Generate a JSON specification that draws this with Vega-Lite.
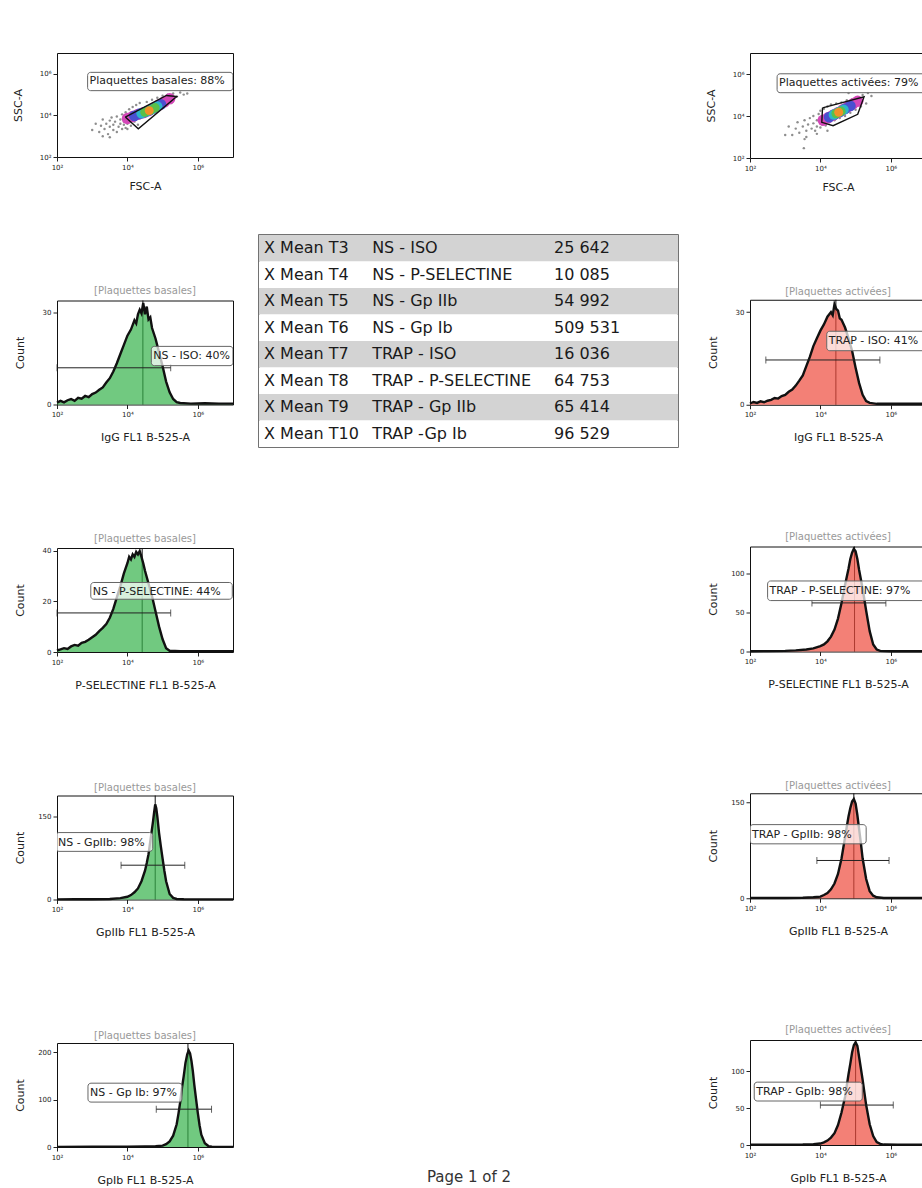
{
"$schema": "https://vega.github.io/schema/vega-lite/v6.json",
"padding": {"left": 11, "top": 52, "right": 0, "bottom": 0},
"spacing": 19,
"config": {
  "font": "DejaVu Sans",
  "view": {"stroke": "#111", "strokeWidth": 1},
  "axis": {"grid": false, "domain": false, "tickSize": 4, "tickColor": "#222", "labelFontSize": 7, "labelColor": "#222", "labelPadding": 2, "labelFlush": false, "titleFontSize": 11, "titleFontWeight": "normal", "titleColor": "#222"},
  "title": {"fontSize": 10, "fontWeight": "normal", "color": "#999", "offset": 2}
},
"datasets": {
  "ns_iso": [{"log_fl":2.0,"count":0.6},{"log_fl":2.1,"count":1.2},{"log_fl":2.2,"count":0.7},{"log_fl":2.3,"count":1.4},{"log_fl":2.4,"count":1.8},{"log_fl":2.5,"count":1.2},{"log_fl":2.6,"count":2.2},{"log_fl":2.7,"count":1.9},{"log_fl":2.8,"count":2.8},{"log_fl":2.9,"count":2.4},{"log_fl":3.0,"count":3.4},{"log_fl":3.1,"count":3.9},{"log_fl":3.2,"count":4.8},{"log_fl":3.3,"count":5.6},{"log_fl":3.4,"count":7.2},{"log_fl":3.5,"count":8.6},{"log_fl":3.6,"count":10.8},{"log_fl":3.7,"count":13.5},{"log_fl":3.8,"count":16.5},{"log_fl":3.9,"count":19.5},{"log_fl":4.0,"count":22.5},{"log_fl":4.1,"count":24.5},{"log_fl":4.2,"count":27.5},{"log_fl":4.25,"count":26.5},{"log_fl":4.3,"count":29.5},{"log_fl":4.35,"count":31},{"log_fl":4.4,"count":29.8},{"log_fl":4.45,"count":33.2},{"log_fl":4.5,"count":29.5},{"log_fl":4.55,"count":32},{"log_fl":4.6,"count":27.8},{"log_fl":4.65,"count":28.5},{"log_fl":4.7,"count":25},{"log_fl":4.8,"count":21.5},{"log_fl":4.9,"count":17},{"log_fl":5.0,"count":12.5},{"log_fl":5.1,"count":7.5},{"log_fl":5.2,"count":4},{"log_fl":5.3,"count":1.8},{"log_fl":5.4,"count":0.8},{"log_fl":5.5,"count":0.5},{"log_fl":5.8,"count":0.3},{"log_fl":6.2,"count":0.4},{"log_fl":6.6,"count":0.3},{"log_fl":7.0,"count":0.3}],
  "trap_iso": [{"log_fl":2.0,"count":0.4},{"log_fl":2.1,"count":0.9},{"log_fl":2.2,"count":0.6},{"log_fl":2.3,"count":1.1},{"log_fl":2.4,"count":0.8},{"log_fl":2.5,"count":1.3},{"log_fl":2.6,"count":1.6},{"log_fl":2.7,"count":2.2},{"log_fl":2.8,"count":2.0},{"log_fl":2.9,"count":2.8},{"log_fl":3.0,"count":3.2},{"log_fl":3.1,"count":4.2},{"log_fl":3.2,"count":4.9},{"log_fl":3.3,"count":6.2},{"log_fl":3.4,"count":7.8},{"log_fl":3.5,"count":9.5},{"log_fl":3.6,"count":12.5},{"log_fl":3.7,"count":15.5},{"log_fl":3.8,"count":19},{"log_fl":3.9,"count":21.5},{"log_fl":4.0,"count":24},{"log_fl":4.1,"count":26},{"log_fl":4.2,"count":28.5},{"log_fl":4.3,"count":30},{"log_fl":4.35,"count":29},{"log_fl":4.4,"count":32.5},{"log_fl":4.45,"count":31},{"log_fl":4.5,"count":30.5},{"log_fl":4.55,"count":28},{"log_fl":4.6,"count":27.5},{"log_fl":4.7,"count":25},{"log_fl":4.8,"count":21.5},{"log_fl":4.9,"count":17.5},{"log_fl":5.0,"count":12},{"log_fl":5.1,"count":7},{"log_fl":5.2,"count":3.2},{"log_fl":5.3,"count":1.2},{"log_fl":5.4,"count":0.6},{"log_fl":5.6,"count":0.3},{"log_fl":6.0,"count":0.3},{"log_fl":6.5,"count":0.3},{"log_fl":7.0,"count":0.3}],
  "ns_psel": [{"log_fl":2.0,"count":0.6},{"log_fl":2.1,"count":1.0},{"log_fl":2.2,"count":1.5},{"log_fl":2.3,"count":1.2},{"log_fl":2.4,"count":2.2},{"log_fl":2.5,"count":2.8},{"log_fl":2.6,"count":2.5},{"log_fl":2.7,"count":3.6},{"log_fl":2.8,"count":4.0},{"log_fl":2.9,"count":4.8},{"log_fl":3.0,"count":5.8},{"log_fl":3.1,"count":6.8},{"log_fl":3.2,"count":8.2},{"log_fl":3.3,"count":9.5},{"log_fl":3.4,"count":11},{"log_fl":3.5,"count":13.5},{"log_fl":3.6,"count":17},{"log_fl":3.7,"count":21.5},{"log_fl":3.8,"count":26},{"log_fl":3.9,"count":31},{"log_fl":4.0,"count":35},{"log_fl":4.05,"count":37.5},{"log_fl":4.1,"count":36.5},{"log_fl":4.15,"count":38.5},{"log_fl":4.2,"count":37.5},{"log_fl":4.25,"count":39.5},{"log_fl":4.3,"count":38.5},{"log_fl":4.35,"count":39.8},{"log_fl":4.4,"count":37.5},{"log_fl":4.45,"count":35},{"log_fl":4.5,"count":32},{"log_fl":4.6,"count":27},{"log_fl":4.7,"count":22},{"log_fl":4.8,"count":16},{"log_fl":4.9,"count":10},{"log_fl":5.0,"count":5},{"log_fl":5.1,"count":1.5},{"log_fl":5.2,"count":0.5},{"log_fl":5.5,"count":0.3},{"log_fl":6.0,"count":0.3},{"log_fl":6.5,"count":0.3},{"log_fl":7.0,"count":0.3}],
  "trap_psel": [{"log_fl":2.0,"count":0.3},{"log_fl":2.5,"count":0.5},{"log_fl":3.0,"count":0.8},{"log_fl":3.3,"count":1.5},{"log_fl":3.6,"count":2.5},{"log_fl":3.8,"count":4},{"log_fl":4.0,"count":7},{"log_fl":4.1,"count":9},{"log_fl":4.2,"count":13},{"log_fl":4.3,"count":19},{"log_fl":4.4,"count":28},{"log_fl":4.5,"count":42},{"log_fl":4.6,"count":62},{"log_fl":4.7,"count":85},{"log_fl":4.8,"count":106},{"log_fl":4.85,"count":118},{"log_fl":4.9,"count":126},{"log_fl":4.95,"count":131},{"log_fl":5.0,"count":128},{"log_fl":5.05,"count":118},{"log_fl":5.1,"count":104},{"log_fl":5.2,"count":80},{"log_fl":5.3,"count":52},{"log_fl":5.4,"count":26},{"log_fl":5.5,"count":9},{"log_fl":5.6,"count":2.5},{"log_fl":5.7,"count":0.8},{"log_fl":6.0,"count":0.4},{"log_fl":6.5,"count":0.3},{"log_fl":7.0,"count":0.3}],
  "ns_gpiib": [{"log_fl":2.0,"count":0.3},{"log_fl":2.5,"count":0.4},{"log_fl":3.0,"count":0.5},{"log_fl":3.5,"count":1},{"log_fl":3.8,"count":2.5},{"log_fl":4.0,"count":5},{"log_fl":4.1,"count":8},{"log_fl":4.2,"count":13},{"log_fl":4.3,"count":20},{"log_fl":4.4,"count":33},{"log_fl":4.5,"count":52},{"log_fl":4.55,"count":66},{"log_fl":4.6,"count":82},{"log_fl":4.65,"count":105},{"log_fl":4.7,"count":128},{"log_fl":4.73,"count":142},{"log_fl":4.76,"count":158},{"log_fl":4.79,"count":172},{"log_fl":4.82,"count":165},{"log_fl":4.85,"count":150},{"log_fl":4.9,"count":120},{"log_fl":4.95,"count":96},{"log_fl":5.0,"count":74},{"log_fl":5.05,"count":52},{"log_fl":5.1,"count":33},{"log_fl":5.2,"count":10},{"log_fl":5.3,"count":3},{"log_fl":5.4,"count":1},{"log_fl":5.6,"count":0.4},{"log_fl":6.0,"count":0.3},{"log_fl":6.5,"count":0.3},{"log_fl":7.0,"count":0.3}],
  "trap_gpiib": [{"log_fl":2.0,"count":0.3},{"log_fl":2.5,"count":0.4},{"log_fl":3.0,"count":0.5},{"log_fl":3.5,"count":0.8},{"log_fl":3.8,"count":1.5},{"log_fl":4.0,"count":2.5},{"log_fl":4.1,"count":5},{"log_fl":4.2,"count":8},{"log_fl":4.3,"count":14},{"log_fl":4.4,"count":23},{"log_fl":4.5,"count":38},{"log_fl":4.6,"count":62},{"log_fl":4.7,"count":95},{"log_fl":4.75,"count":112},{"log_fl":4.8,"count":128},{"log_fl":4.85,"count":141},{"log_fl":4.9,"count":151},{"log_fl":4.95,"count":155},{"log_fl":5.0,"count":148},{"log_fl":5.05,"count":130},{"log_fl":5.1,"count":108},{"log_fl":5.15,"count":86},{"log_fl":5.2,"count":62},{"log_fl":5.3,"count":30},{"log_fl":5.4,"count":11},{"log_fl":5.5,"count":4},{"log_fl":5.6,"count":1.5},{"log_fl":5.8,"count":0.5},{"log_fl":6.2,"count":0.3},{"log_fl":7.0,"count":0.3}],
  "ns_gpib": [{"log_fl":2.0,"count":0.3},{"log_fl":3.0,"count":0.4},{"log_fl":4.0,"count":0.6},{"log_fl":4.5,"count":1},{"log_fl":4.8,"count":1.5},{"log_fl":5.0,"count":3},{"log_fl":5.1,"count":6},{"log_fl":5.2,"count":12},{"log_fl":5.3,"count":24},{"log_fl":5.4,"count":48},{"log_fl":5.45,"count":70},{"log_fl":5.5,"count":95},{"log_fl":5.55,"count":125},{"log_fl":5.6,"count":150},{"log_fl":5.65,"count":178},{"log_fl":5.7,"count":196},{"log_fl":5.74,"count":204},{"log_fl":5.78,"count":198},{"log_fl":5.82,"count":182},{"log_fl":5.86,"count":160},{"log_fl":5.9,"count":132},{"log_fl":5.95,"count":102},{"log_fl":6.0,"count":72},{"log_fl":6.05,"count":46},{"log_fl":6.1,"count":26},{"log_fl":6.2,"count":8},{"log_fl":6.3,"count":2},{"log_fl":6.4,"count":0.6},{"log_fl":6.7,"count":0.3},{"log_fl":7.0,"count":0.3}],
  "trap_gpib": [{"log_fl":2.0,"count":0.3},{"log_fl":3.0,"count":0.4},{"log_fl":3.5,"count":0.6},{"log_fl":3.8,"count":1.2},{"log_fl":4.0,"count":2},{"log_fl":4.1,"count":3.5},{"log_fl":4.2,"count":6},{"log_fl":4.3,"count":10},{"log_fl":4.4,"count":16},{"log_fl":4.5,"count":27},{"log_fl":4.6,"count":44},{"log_fl":4.7,"count":65},{"log_fl":4.8,"count":96},{"log_fl":4.85,"count":110},{"log_fl":4.9,"count":125},{"log_fl":4.95,"count":135},{"log_fl":5.0,"count":139},{"log_fl":5.05,"count":134},{"log_fl":5.1,"count":119},{"log_fl":5.2,"count":88},{"log_fl":5.3,"count":54},{"log_fl":5.4,"count":28},{"log_fl":5.5,"count":12},{"log_fl":5.6,"count":4},{"log_fl":5.7,"count":1.5},{"log_fl":5.8,"count":0.6},{"log_fl":6.2,"count":0.3},{"log_fl":7.0,"count":0.3}],
  "annot": [
    {"panel":"NS-ISO","label":"NS - ISO: 40%","peak":4.44,"gate_lo":2.0,"gate_hi":5.23,"gate_y":12,"box_x1":4.68,"box_x2":7.0,"box_top":19.0,"box_bottom":12.7},
    {"panel":"TRAP-ISO","label":"TRAP - ISO: 41%","peak":4.44,"gate_lo":2.45,"gate_hi":5.69,"gate_y":14.5,"box_x1":4.18,"box_x2":7.3,"box_top":23.8,"box_bottom":17.5},
    {"panel":"NS-PSEL","label":"NS - P-SELECTINE: 44%","peak":4.42,"gate_lo":2.0,"gate_hi":5.23,"gate_y":15.4,"box_x1":2.96,"box_x2":6.98,"box_top":27.4,"box_bottom":20.8},
    {"panel":"TRAP-PSEL","label":"TRAP - P-SELECTINE: 97%","peak":4.97,"gate_lo":3.76,"gate_hi":5.86,"gate_y":62,"box_x1":2.5,"box_x2":7.3,"box_top":90,"box_bottom":65},
    {"panel":"NS-GPIIB","label":"NS - GpIIb: 98%","peak":4.79,"gate_lo":3.82,"gate_hi":5.63,"gate_y":62,"box_x1":1.97,"box_x2":4.72,"box_top":121,"box_bottom":87},
    {"panel":"TRAP-GPIIB","label":"TRAP - GpIIb: 98%","peak":4.95,"gate_lo":3.9,"gate_hi":5.95,"gate_y":59,"box_x1":2.0,"box_x2":5.3,"box_top":115,"box_bottom":85},
    {"panel":"NS-GPIB","label":"NS - Gp Ib: 97%","peak":5.72,"gate_lo":4.82,"gate_hi":6.39,"gate_y":80,"box_x1":2.88,"box_x2":5.55,"box_top":135,"box_bottom":95},
    {"panel":"TRAP-GPIB","label":"TRAP - GpIb: 98%","peak":5.0,"gate_lo":4.0,"gate_hi":6.07,"gate_y":54,"box_x1":2.12,"box_x2":5.19,"box_top":85,"box_bottom":59.5}
  ],
  "scatter_annot": [
    {"panel":"basales","label":"Plaquettes basales: 88%","box_x1":2.87,"box_x2":7.0,"box_top":6.07,"box_bottom":5.19},
    {"panel":"activees","label":"Plaquettes activées: 79%","box_x1":2.77,"box_x2":7.4,"box_top":6.01,"box_bottom":5.11}
  ],
  "gates": [
    {"panel":"basales","v":0,"fsc":3.94,"ssc":3.92},{"panel":"basales","v":1,"fsc":4.31,"ssc":3.36},{"panel":"basales","v":2,"fsc":5.40,"ssc":4.91},{"panel":"basales","v":3,"fsc":5.11,"ssc":4.96},{"panel":"basales","v":4,"fsc":3.94,"ssc":3.92},
    {"panel":"activees","v":0,"fsc":4.06,"ssc":4.39},{"panel":"activees","v":1,"fsc":5.24,"ssc":4.91},{"panel":"activees","v":2,"fsc":5.06,"ssc":4.08},{"panel":"activees","v":3,"fsc":4.36,"ssc":3.54},{"panel":"activees","v":4,"fsc":4.04,"ssc":3.70},{"panel":"activees","v":5,"fsc":4.06,"ssc":4.39}
  ],
  "cells": [
    {"panel":"basales","level":0,"fsc":3.0,"ssc":3.3},{"panel":"basales","level":0,"fsc":3.1,"ssc":3.6},{"panel":"basales","level":0,"fsc":3.2,"ssc":3.2},{"panel":"basales","level":0,"fsc":3.25,"ssc":3.5},{"panel":"basales","level":0,"fsc":3.3,"ssc":3.8},{"panel":"basales","level":0,"fsc":3.35,"ssc":3.35},{"panel":"basales","level":0,"fsc":3.4,"ssc":3.6},{"panel":"basales","level":0,"fsc":3.45,"ssc":3.1},{"panel":"basales","level":0,"fsc":3.5,"ssc":3.45},{"panel":"basales","level":0,"fsc":3.5,"ssc":3.75},{"panel":"basales","level":0,"fsc":3.55,"ssc":3.9},{"panel":"basales","level":0,"fsc":3.6,"ssc":3.3},{"panel":"basales","level":0,"fsc":3.6,"ssc":3.55},{"panel":"basales","level":0,"fsc":3.65,"ssc":3.7},{"panel":"basales","level":0,"fsc":3.7,"ssc":3.2},{"panel":"basales","level":0,"fsc":3.7,"ssc":3.95},{"panel":"basales","level":0,"fsc":3.75,"ssc":3.45},{"panel":"basales","level":0,"fsc":3.8,"ssc":3.6},{"panel":"basales","level":0,"fsc":3.8,"ssc":3.8},{"panel":"basales","level":0,"fsc":3.85,"ssc":3.35},{"panel":"basales","level":0,"fsc":3.85,"ssc":4.05},{"panel":"basales","level":0,"fsc":3.9,"ssc":3.55},{"panel":"basales","level":0,"fsc":3.9,"ssc":3.7},{"panel":"basales","level":0,"fsc":3.95,"ssc":3.4},{"panel":"basales","level":0,"fsc":3.95,"ssc":4.15},{"panel":"basales","level":0,"fsc":4.0,"ssc":3.6},{"panel":"basales","level":0,"fsc":4.05,"ssc":3.75},{"panel":"basales","level":0,"fsc":4.05,"ssc":4.3},{"panel":"basales","level":0,"fsc":4.1,"ssc":3.5},{"panel":"basales","level":0,"fsc":4.15,"ssc":4.4},{"panel":"basales","level":0,"fsc":4.2,"ssc":3.7},{"panel":"basales","level":0,"fsc":4.25,"ssc":4.5},{"panel":"basales","level":0,"fsc":4.3,"ssc":3.85},{"panel":"basales","level":0,"fsc":4.35,"ssc":4.6},{"panel":"basales","level":0,"fsc":4.4,"ssc":3.9},{"panel":"basales","level":0,"fsc":4.5,"ssc":4.0},{"panel":"basales","level":0,"fsc":4.55,"ssc":4.65},{"panel":"basales","level":0,"fsc":4.6,"ssc":4.1},{"panel":"basales","level":0,"fsc":4.7,"ssc":4.75},{"panel":"basales","level":0,"fsc":4.75,"ssc":4.2},{"panel":"basales","level":0,"fsc":4.85,"ssc":4.85},{"panel":"basales","level":0,"fsc":4.9,"ssc":4.35},{"panel":"basales","level":0,"fsc":5.0,"ssc":4.95},{"panel":"basales","level":0,"fsc":5.05,"ssc":4.45},{"panel":"basales","level":0,"fsc":5.15,"ssc":5.0},{"panel":"basales","level":0,"fsc":5.25,"ssc":4.6},{"panel":"basales","level":0,"fsc":5.3,"ssc":5.05},{"panel":"basales","level":0,"fsc":5.4,"ssc":4.9},{"panel":"basales","level":0,"fsc":5.5,"ssc":5.1},{"panel":"basales","level":0,"fsc":5.6,"ssc":5.0},{"panel":"basales","level":0,"fsc":5.7,"ssc":5.05},{"panel":"basales","level":0,"fsc":3.3,"ssc":3.0},{"panel":"basales","level":0,"fsc":3.5,"ssc":2.95},{"panel":"basales","level":0,"fsc":4.0,"ssc":3.35},{"panel":"basales","level":0,"fsc":4.3,"ssc":3.55},
    {"panel":"basales","level":1,"fsc":4.0,"ssc":3.85},{"panel":"basales","level":1,"fsc":4.15,"ssc":3.95},{"panel":"basales","level":1,"fsc":4.3,"ssc":4.05},{"panel":"basales","level":1,"fsc":4.45,"ssc":4.13},{"panel":"basales","level":1,"fsc":4.6,"ssc":4.22},{"panel":"basales","level":1,"fsc":4.75,"ssc":4.35},{"panel":"basales","level":1,"fsc":4.9,"ssc":4.5},{"panel":"basales","level":1,"fsc":5.05,"ssc":4.65},{"panel":"basales","level":1,"fsc":5.2,"ssc":4.8},
    {"panel":"basales","level":2,"fsc":4.2,"ssc":3.98},{"panel":"basales","level":2,"fsc":4.35,"ssc":4.08},{"panel":"basales","level":2,"fsc":4.5,"ssc":4.16},{"panel":"basales","level":2,"fsc":4.65,"ssc":4.26},{"panel":"basales","level":2,"fsc":4.8,"ssc":4.4},{"panel":"basales","level":2,"fsc":4.95,"ssc":4.53},
    {"panel":"basales","level":3,"fsc":4.4,"ssc":4.1},{"panel":"basales","level":3,"fsc":4.55,"ssc":4.19},{"panel":"basales","level":3,"fsc":4.7,"ssc":4.3},{"panel":"basales","level":3,"fsc":4.85,"ssc":4.44},
    {"panel":"basales","level":4,"fsc":4.5,"ssc":4.16},{"panel":"basales","level":4,"fsc":4.65,"ssc":4.25},{"panel":"basales","level":4,"fsc":4.78,"ssc":4.36},
    {"panel":"basales","level":5,"fsc":4.62,"ssc":4.23},
    {"panel":"activees","level":0,"fsc":3.1,"ssc":3.5},{"panel":"activees","level":0,"fsc":3.2,"ssc":3.1},{"panel":"activees","level":0,"fsc":3.3,"ssc":3.4},{"panel":"activees","level":0,"fsc":3.35,"ssc":3.7},{"panel":"activees","level":0,"fsc":3.4,"ssc":3.2},{"panel":"activees","level":0,"fsc":3.5,"ssc":3.5},{"panel":"activees","level":0,"fsc":3.55,"ssc":3.8},{"panel":"activees","level":0,"fsc":3.6,"ssc":3.3},{"panel":"activees","level":0,"fsc":3.65,"ssc":3.6},{"panel":"activees","level":0,"fsc":3.7,"ssc":3.9},{"panel":"activees","level":0,"fsc":3.75,"ssc":3.4},{"panel":"activees","level":0,"fsc":3.8,"ssc":3.65},{"panel":"activees","level":0,"fsc":3.8,"ssc":4.0},{"panel":"activees","level":0,"fsc":3.85,"ssc":3.3},{"panel":"activees","level":0,"fsc":3.9,"ssc":3.5},{"panel":"activees","level":0,"fsc":3.9,"ssc":3.8},{"panel":"activees","level":0,"fsc":3.95,"ssc":4.1},{"panel":"activees","level":0,"fsc":4.0,"ssc":3.45},{"panel":"activees","level":0,"fsc":4.0,"ssc":4.25},{"panel":"activees","level":0,"fsc":4.05,"ssc":3.6},{"panel":"activees","level":0,"fsc":4.1,"ssc":4.35},{"panel":"activees","level":0,"fsc":4.15,"ssc":3.55},{"panel":"activees","level":0,"fsc":4.2,"ssc":4.45},{"panel":"activees","level":0,"fsc":4.25,"ssc":3.7},{"panel":"activees","level":0,"fsc":4.3,"ssc":4.55},{"panel":"activees","level":0,"fsc":4.4,"ssc":3.8},{"panel":"activees","level":0,"fsc":4.45,"ssc":4.6},{"panel":"activees","level":0,"fsc":4.55,"ssc":3.9},{"panel":"activees","level":0,"fsc":4.6,"ssc":4.65},{"panel":"activees","level":0,"fsc":4.7,"ssc":4.0},{"panel":"activees","level":0,"fsc":4.75,"ssc":4.75},{"panel":"activees","level":0,"fsc":4.85,"ssc":4.15},{"panel":"activees","level":0,"fsc":4.9,"ssc":4.8},{"panel":"activees","level":0,"fsc":5.0,"ssc":4.3},{"panel":"activees","level":0,"fsc":5.05,"ssc":4.9},{"panel":"activees","level":0,"fsc":5.15,"ssc":4.45},{"panel":"activees","level":0,"fsc":5.2,"ssc":5.0},{"panel":"activees","level":0,"fsc":5.3,"ssc":4.6},{"panel":"activees","level":0,"fsc":5.35,"ssc":5.1},{"panel":"activees","level":0,"fsc":5.45,"ssc":4.95},{"panel":"activees","level":0,"fsc":3.55,"ssc":2.9},{"panel":"activees","level":0,"fsc":3.9,"ssc":3.15},{"panel":"activees","level":0,"fsc":4.2,"ssc":3.3},{"panel":"activees","level":0,"fsc":3.0,"ssc":3.1},{"panel":"activees","level":0,"fsc":4.8,"ssc":5.1},{"panel":"activees","level":0,"fsc":3.6,"ssc":3.0},{"panel":"activees","level":0,"fsc":4.1,"ssc":3.9},{"panel":"activees","level":0,"fsc":3.53,"ssc":2.47},
    {"panel":"activees","level":1,"fsc":4.08,"ssc":3.8},{"panel":"activees","level":1,"fsc":4.22,"ssc":3.92},{"panel":"activees","level":1,"fsc":4.36,"ssc":4.04},{"panel":"activees","level":1,"fsc":4.5,"ssc":4.16},{"panel":"activees","level":1,"fsc":4.64,"ssc":4.3},{"panel":"activees","level":1,"fsc":4.78,"ssc":4.44},{"panel":"activees","level":1,"fsc":4.92,"ssc":4.57},{"panel":"activees","level":1,"fsc":5.06,"ssc":4.7},
    {"panel":"activees","level":2,"fsc":4.25,"ssc":3.95},{"panel":"activees","level":2,"fsc":4.4,"ssc":4.08},{"panel":"activees","level":2,"fsc":4.55,"ssc":4.2},{"panel":"activees","level":2,"fsc":4.7,"ssc":4.34},{"panel":"activees","level":2,"fsc":4.85,"ssc":4.48},
    {"panel":"activees","level":3,"fsc":4.38,"ssc":4.06},{"panel":"activees","level":3,"fsc":4.52,"ssc":4.18},{"panel":"activees","level":3,"fsc":4.66,"ssc":4.3},
    {"panel":"activees","level":4,"fsc":4.45,"ssc":4.12},{"panel":"activees","level":4,"fsc":4.58,"ssc":4.22},
    {"panel":"activees","level":5,"fsc":4.52,"ssc":4.18}
  ],
  "table": [
    {"t":3,"row":"X Mean T3","sample":"NS - ISO","x_mean":25642},
    {"t":4,"row":"X Mean T4","sample":"NS - P-SELECTINE","x_mean":10085},
    {"t":5,"row":"X Mean T5","sample":"NS - Gp IIb","x_mean":54992},
    {"t":6,"row":"X Mean T6","sample":"NS - Gp Ib","x_mean":509531},
    {"t":7,"row":"X Mean T7","sample":"TRAP - ISO","x_mean":16036},
    {"t":8,"row":"X Mean T8","sample":"TRAP - P-SELECTINE","x_mean":64753},
    {"t":9,"row":"X Mean T9","sample":"TRAP - Gp IIb","x_mean":65414},
    {"t":10,"row":"X Mean T10","sample":"TRAP -Gp Ib","x_mean":96529}
  ]
},
"hconcat": [
 {"vconcat": [
  {"width": 176, "height": 104,
   "layer": [
    {"data": {"name": "cells"}, "transform": [{"filter": "datum.panel == 'basales' && datum.level == 0"}], "mark": {"type": "circle", "size": 6, "color": "#7a7a7a", "opacity": 0.85},
     "encoding": {"x": {"field": "fsc", "type": "quantitative", "scale": {"domain": [2, 7], "nice": false, "zero": false}, "axis": {"title": "FSC-A", "values": [2,2.5,3,3.5,4,4.5,5,5.5,6,6.5,7], "labelExpr": "datum.value == round(datum.value) ? '10' + ['⁰','¹','²','³','⁴','⁵','⁶','⁷'][datum.value] : ''", "titleY": 23}},
      "y": {"field": "ssc", "type": "quantitative", "scale": {"domain": [2, 7], "nice": false, "zero": false}, "axis": {"title": "SSC-A", "values": [2,2.5,3,3.5,4,4.5,5,5.5,6,6.5,7], "labelExpr": "datum.value == round(datum.value) ? '10' + ['⁰','¹','²','³','⁴','⁵','⁶','⁷'][datum.value] : ''", "titleX": -34, "titleY": 52}}}},
    {"data": {"name": "cells"}, "transform": [{"filter": "datum.panel == 'basales' && datum.level > 0"}], "mark": {"type": "circle", "opacity": 1},
     "encoding": {"x": {"field": "fsc", "type": "quantitative"}, "y": {"field": "ssc", "type": "quantitative"},
      "color": {"field": "level", "type": "ordinal", "scale": {"domain": [1,2,3,4,5], "range": ["#d447b8","#4a4fd0","#2cb5c8","#58c04a","#f0902a"]}, "legend": null},
      "size": {"field": "level", "type": "ordinal", "scale": {"domain": [1,2,3,4,5], "range": [130,80,45,25,10]}, "legend": null}}},
    {"data": {"name": "gates"}, "transform": [{"filter": "datum.panel == 'basales'"}], "mark": {"type": "line", "color": "#111", "strokeWidth": 1.4},
     "encoding": {"x": {"field": "fsc", "type": "quantitative"}, "y": {"field": "ssc", "type": "quantitative"}, "order": {"field": "v", "type": "quantitative"}}},
    {"data": {"name": "scatter_annot"}, "transform": [{"filter": "datum.panel == 'basales'"}], "mark": {"type": "rect", "fill": "#fff", "fillOpacity": 0.75, "stroke": "#666", "strokeWidth": 1, "cornerRadius": 3, "clip": true},
     "encoding": {"x": {"field": "box_x1", "type": "quantitative"}, "x2": {"field": "box_x2"}, "y": {"field": "box_top", "type": "quantitative"}, "y2": {"field": "box_bottom"}}},
    {"data": {"name": "scatter_annot"}, "transform": [{"filter": "datum.panel == 'basales'"}], "mark": {"type": "text", "align": "left", "baseline": "top", "dx": 2, "dy": 3, "fontSize": 11, "color": "#222", "clip": true},
     "encoding": {"x": {"field": "box_x1", "type": "quantitative"}, "y": {"field": "box_top", "type": "quantitative"}, "text": {"field": "label"}}}
   ]},
  {"width": 176, "height": 104, "title": "[Plaquettes basales]",
   "layer": [
    {"data": {"name": "annot"}, "transform": [{"filter": "datum.panel == 'NS-ISO'"}], "mark": {"type": "rule", "color": "#111"}, "encoding": {"x": {"field": "peak", "type": "quantitative"}}},
    {"data": {"name": "ns_iso"}, "mark": {"type": "area", "color": "#35b24a", "line": {"color": "#111", "strokeWidth": 2.4}},
     "encoding": {"x": {"field": "log_fl", "type": "quantitative", "scale": {"domain": [2, 7], "nice": false, "zero": false}, "axis": {"title": "IgG FL1 B-525-A", "values": [2,2.5,3,3.5,4,4.5,5,5.5,6,6.5,7], "labelExpr": "datum.value == round(datum.value) ? '10' + ['⁰','¹','²','³','⁴','⁵','⁶','⁷'][datum.value] : ''", "titleY": 27}},
      "y": {"field": "count", "type": "quantitative", "scale": {"domain": [0, 34], "nice": false, "zero": false}, "axis": {"title": "Count", "values": [0,10,20,30], "labelExpr": "datum.value == 0 || datum.value == 30 ? datum.label : ''", "titleX": -32, "titleY": 52}}}},
    {"data": {"name": "annot"}, "transform": [{"filter": "datum.panel == 'NS-ISO'"}], "mark": {"type": "rule", "color": "#222"}, "encoding": {"x": {"field": "gate_lo", "type": "quantitative"}, "x2": {"field": "gate_hi"}, "y": {"field": "gate_y", "type": "quantitative"}}},
    {"data": {"name": "annot"}, "transform": [{"filter": "datum.panel == 'NS-ISO'"}, {"fold": ["gate_lo", "gate_hi"], "as": ["end", "gate_x"]}], "mark": {"type": "tick", "orient": "vertical", "size": 7, "thickness": 1, "color": "#222"}, "encoding": {"x": {"field": "gate_x", "type": "quantitative"}, "y": {"field": "gate_y", "type": "quantitative"}}},
    {"data": {"name": "annot"}, "transform": [{"filter": "datum.panel == 'NS-ISO'"}], "mark": {"type": "rect", "fill": "#fff", "fillOpacity": 0.72, "stroke": "#666", "strokeWidth": 1, "cornerRadius": 3, "clip": true}, "encoding": {"x": {"field": "box_x1", "type": "quantitative"}, "x2": {"field": "box_x2"}, "y": {"field": "box_top", "type": "quantitative"}, "y2": {"field": "box_bottom"}}},
    {"data": {"name": "annot"}, "transform": [{"filter": "datum.panel == 'NS-ISO'"}], "mark": {"type": "text", "align": "left", "baseline": "top", "dx": 2, "dy": 4, "fontSize": 11, "color": "#222", "clip": true}, "encoding": {"x": {"field": "box_x1", "type": "quantitative"}, "y": {"field": "box_top", "type": "quantitative"}, "text": {"field": "label"}}}
   ]},
  {"width": 176, "height": 104, "title": "[Plaquettes basales]",
   "layer": [
    {"data": {"name": "annot"}, "transform": [{"filter": "datum.panel == 'NS-PSEL'"}], "mark": {"type": "rule", "color": "#111"}, "encoding": {"x": {"field": "peak", "type": "quantitative"}}},
    {"data": {"name": "ns_psel"}, "mark": {"type": "area", "color": "#35b24a", "line": {"color": "#111", "strokeWidth": 2.4}},
     "encoding": {"x": {"field": "log_fl", "type": "quantitative", "scale": {"domain": [2, 7], "nice": false, "zero": false}, "axis": {"title": "P-SELECTINE FL1 B-525-A", "values": [2,2.5,3,3.5,4,4.5,5,5.5,6,6.5,7], "labelExpr": "datum.value == round(datum.value) ? '10' + ['⁰','¹','²','³','⁴','⁵','⁶','⁷'][datum.value] : ''", "titleY": 27}},
      "y": {"field": "count", "type": "quantitative", "scale": {"domain": [0, 41], "nice": false, "zero": false}, "axis": {"title": "Count", "values": [0,10,20,30,40], "labelExpr": "datum.value % 20 == 0 ? datum.label : ''", "titleX": -32, "titleY": 52}}}},
    {"data": {"name": "annot"}, "transform": [{"filter": "datum.panel == 'NS-PSEL'"}], "mark": {"type": "rule", "color": "#222"}, "encoding": {"x": {"field": "gate_lo", "type": "quantitative"}, "x2": {"field": "gate_hi"}, "y": {"field": "gate_y", "type": "quantitative"}}},
    {"data": {"name": "annot"}, "transform": [{"filter": "datum.panel == 'NS-PSEL'"}, {"fold": ["gate_lo", "gate_hi"], "as": ["end", "gate_x"]}], "mark": {"type": "tick", "orient": "vertical", "size": 7, "thickness": 1, "color": "#222"}, "encoding": {"x": {"field": "gate_x", "type": "quantitative"}, "y": {"field": "gate_y", "type": "quantitative"}}},
    {"data": {"name": "annot"}, "transform": [{"filter": "datum.panel == 'NS-PSEL'"}], "mark": {"type": "rect", "fill": "#fff", "fillOpacity": 0.72, "stroke": "#666", "strokeWidth": 1, "cornerRadius": 3, "clip": true}, "encoding": {"x": {"field": "box_x1", "type": "quantitative"}, "x2": {"field": "box_x2"}, "y": {"field": "box_top", "type": "quantitative"}, "y2": {"field": "box_bottom"}}},
    {"data": {"name": "annot"}, "transform": [{"filter": "datum.panel == 'NS-PSEL'"}], "mark": {"type": "text", "align": "left", "baseline": "top", "dx": 2, "dy": 4, "fontSize": 11, "color": "#222", "clip": true}, "encoding": {"x": {"field": "box_x1", "type": "quantitative"}, "y": {"field": "box_top", "type": "quantitative"}, "text": {"field": "label"}}}
   ]},
  {"width": 176, "height": 104, "title": "[Plaquettes basales]",
   "layer": [
    {"data": {"name": "annot"}, "transform": [{"filter": "datum.panel == 'NS-GPIIB'"}], "mark": {"type": "rule", "color": "#111"}, "encoding": {"x": {"field": "peak", "type": "quantitative"}}},
    {"data": {"name": "ns_gpiib"}, "mark": {"type": "area", "color": "#35b24a", "line": {"color": "#111", "strokeWidth": 2.4}},
     "encoding": {"x": {"field": "log_fl", "type": "quantitative", "scale": {"domain": [2, 7], "nice": false, "zero": false}, "axis": {"title": "GpIIb FL1 B-525-A", "values": [2,2.5,3,3.5,4,4.5,5,5.5,6,6.5,7], "labelExpr": "datum.value == round(datum.value) ? '10' + ['⁰','¹','²','³','⁴','⁵','⁶','⁷'][datum.value] : ''", "titleY": 27}},
      "y": {"field": "count", "type": "quantitative", "scale": {"domain": [0, 188], "nice": false, "zero": false}, "axis": {"title": "Count", "values": [0,50,100,150], "labelExpr": "datum.value == 0 || datum.value == 150 ? datum.label : ''", "titleX": -32, "titleY": 52}}}},
    {"data": {"name": "annot"}, "transform": [{"filter": "datum.panel == 'NS-GPIIB'"}], "mark": {"type": "rule", "color": "#222"}, "encoding": {"x": {"field": "gate_lo", "type": "quantitative"}, "x2": {"field": "gate_hi"}, "y": {"field": "gate_y", "type": "quantitative"}}},
    {"data": {"name": "annot"}, "transform": [{"filter": "datum.panel == 'NS-GPIIB'"}, {"fold": ["gate_lo", "gate_hi"], "as": ["end", "gate_x"]}], "mark": {"type": "tick", "orient": "vertical", "size": 7, "thickness": 1, "color": "#222"}, "encoding": {"x": {"field": "gate_x", "type": "quantitative"}, "y": {"field": "gate_y", "type": "quantitative"}}},
    {"data": {"name": "annot"}, "transform": [{"filter": "datum.panel == 'NS-GPIIB'"}], "mark": {"type": "rect", "fill": "#fff", "fillOpacity": 0.72, "stroke": "#666", "strokeWidth": 1, "cornerRadius": 3, "clip": true}, "encoding": {"x": {"field": "box_x1", "type": "quantitative"}, "x2": {"field": "box_x2"}, "y": {"field": "box_top", "type": "quantitative"}, "y2": {"field": "box_bottom"}}},
    {"data": {"name": "annot"}, "transform": [{"filter": "datum.panel == 'NS-GPIIB'"}], "mark": {"type": "text", "align": "left", "baseline": "top", "dx": 2, "dy": 4, "fontSize": 11, "color": "#222", "clip": true}, "encoding": {"x": {"field": "box_x1", "type": "quantitative"}, "y": {"field": "box_top", "type": "quantitative"}, "text": {"field": "label"}}}
   ]},
  {"width": 176, "height": 104, "title": "[Plaquettes basales]",
   "layer": [
    {"data": {"name": "annot"}, "transform": [{"filter": "datum.panel == 'NS-GPIB'"}], "mark": {"type": "rule", "color": "#111"}, "encoding": {"x": {"field": "peak", "type": "quantitative"}}},
    {"data": {"name": "ns_gpib"}, "mark": {"type": "area", "color": "#35b24a", "line": {"color": "#111", "strokeWidth": 2.4}},
     "encoding": {"x": {"field": "log_fl", "type": "quantitative", "scale": {"domain": [2, 7], "nice": false, "zero": false}, "axis": {"title": "GpIb FL1 B-525-A", "values": [2,2.5,3,3.5,4,4.5,5,5.5,6,6.5,7], "labelExpr": "datum.value == round(datum.value) ? '10' + ['⁰','¹','²','³','⁴','⁵','⁶','⁷'][datum.value] : ''", "titleY": 27}},
      "y": {"field": "count", "type": "quantitative", "scale": {"domain": [0, 220], "nice": false, "zero": false}, "axis": {"title": "Count", "values": [0,50,100,150,200], "labelExpr": "datum.value % 100 == 0 ? datum.label : ''", "titleX": -32, "titleY": 52}}}},
    {"data": {"name": "annot"}, "transform": [{"filter": "datum.panel == 'NS-GPIB'"}], "mark": {"type": "rule", "color": "#222"}, "encoding": {"x": {"field": "gate_lo", "type": "quantitative"}, "x2": {"field": "gate_hi"}, "y": {"field": "gate_y", "type": "quantitative"}}},
    {"data": {"name": "annot"}, "transform": [{"filter": "datum.panel == 'NS-GPIB'"}, {"fold": ["gate_lo", "gate_hi"], "as": ["end", "gate_x"]}], "mark": {"type": "tick", "orient": "vertical", "size": 7, "thickness": 1, "color": "#222"}, "encoding": {"x": {"field": "gate_x", "type": "quantitative"}, "y": {"field": "gate_y", "type": "quantitative"}}},
    {"data": {"name": "annot"}, "transform": [{"filter": "datum.panel == 'NS-GPIB'"}], "mark": {"type": "rect", "fill": "#fff", "fillOpacity": 0.72, "stroke": "#666", "strokeWidth": 1, "cornerRadius": 3, "clip": true}, "encoding": {"x": {"field": "box_x1", "type": "quantitative"}, "x2": {"field": "box_x2"}, "y": {"field": "box_top", "type": "quantitative"}, "y2": {"field": "box_bottom"}}},
    {"data": {"name": "annot"}, "transform": [{"filter": "datum.panel == 'NS-GPIB'"}], "mark": {"type": "text", "align": "left", "baseline": "top", "dx": 2, "dy": 4, "fontSize": 11, "color": "#222", "clip": true}, "encoding": {"x": {"field": "box_x1", "type": "quantitative"}, "y": {"field": "box_top", "type": "quantitative"}, "text": {"field": "label"}}}
   ]}
 ], "spacing": 143.5, "bounds": "flush"},

 {"vconcat": [
  {"width": 426, "height": 182, "view": {"stroke": null, "fill": "transparent"}, "data": {"values": [{}]}, "mark": "text", "encoding": {"text": {"value": ""}}},
  {"width": 419, "height": 212, "data": {"name": "table"}, "view": {"stroke": "#444", "strokeWidth": 1.5},
   "transform": [{"calculate": "replace(format(datum.x_mean, ',d'), ',', ' ')", "as": "x_mean_text"}],
   "encoding": {"y": {"field": "row", "type": "nominal", "sort": null, "axis": null, "scale": {"type": "band", "paddingInner": 0, "paddingOuter": 0}}},
   "layer": [
    {"mark": {"type": "rect"}, "encoding": {"color": {"condition": {"test": "datum.t % 2 == 1", "value": "#d3d3d3"}, "value": "#ffffff"}}},
    {"mark": {"type": "text", "align": "left", "baseline": "middle", "fontSize": 16, "color": "#1a1a1a"}, "encoding": {"x": {"datum": 0.012, "type": "quantitative", "scale": {"domain": [0, 1], "nice": false, "zero": false}, "axis": null}, "text": {"field": "row"}}},
    {"mark": {"type": "text", "align": "left", "baseline": "middle", "fontSize": 16, "color": "#1a1a1a"}, "encoding": {"x": {"datum": 0.27, "type": "quantitative"}, "text": {"field": "sample"}}},
    {"mark": {"type": "text", "align": "left", "baseline": "middle", "fontSize": 16, "color": "#1a1a1a"}, "encoding": {"x": {"datum": 0.704, "type": "quantitative"}, "text": {"field": "x_mean_text"}}}
   ]},
  {"width": 426, "height": 720, "view": {"stroke": null, "fill": "transparent"}, "data": {"values": [{}]}, "mark": "text", "encoding": {"text": {"value": ""}}},
  {"width": 426, "height": 20, "view": {"stroke": null, "fill": "transparent"}, "data": {"values": [{"page": "Page 1 of 2"}]}, "mark": {"type": "text", "fontSize": 15, "color": "#333", "dx": -3}, "encoding": {"text": {"field": "page"}}}
 ], "spacing": 0, "bounds": "flush"},

 {"vconcat": [
  {"width": 176, "height": 105,
   "layer": [
    {"data": {"name": "cells"}, "transform": [{"filter": "datum.panel == 'activees' && datum.level == 0"}], "mark": {"type": "circle", "size": 6, "color": "#7a7a7a", "opacity": 0.85},
     "encoding": {"x": {"field": "fsc", "type": "quantitative", "scale": {"domain": [2, 7], "nice": false, "zero": false}, "axis": {"title": "FSC-A", "values": [2,2.5,3,3.5,4,4.5,5,5.5,6,6.5,7], "labelExpr": "datum.value == round(datum.value) ? '10' + ['⁰','¹','²','³','⁴','⁵','⁶','⁷'][datum.value] : ''", "titleY": 23}},
      "y": {"field": "ssc", "type": "quantitative", "scale": {"domain": [2, 7], "nice": false, "zero": false}, "axis": {"title": "SSC-A", "values": [2,2.5,3,3.5,4,4.5,5,5.5,6,6.5,7], "labelExpr": "datum.value == round(datum.value) ? '10' + ['⁰','¹','²','³','⁴','⁵','⁶','⁷'][datum.value] : ''", "titleX": -34, "titleY": 52.5}}}},
    {"data": {"name": "cells"}, "transform": [{"filter": "datum.panel == 'activees' && datum.level > 0"}], "mark": {"type": "circle", "opacity": 1},
     "encoding": {"x": {"field": "fsc", "type": "quantitative"}, "y": {"field": "ssc", "type": "quantitative"},
      "color": {"field": "level", "type": "ordinal", "scale": {"domain": [1,2,3,4,5], "range": ["#d447b8","#4a4fd0","#2cb5c8","#58c04a","#f0902a"]}, "legend": null},
      "size": {"field": "level", "type": "ordinal", "scale": {"domain": [1,2,3,4,5], "range": [130,80,45,25,10]}, "legend": null}}},
    {"data": {"name": "gates"}, "transform": [{"filter": "datum.panel == 'activees'"}], "mark": {"type": "line", "color": "#111", "strokeWidth": 1.4},
     "encoding": {"x": {"field": "fsc", "type": "quantitative"}, "y": {"field": "ssc", "type": "quantitative"}, "order": {"field": "v", "type": "quantitative"}}},
    {"data": {"name": "scatter_annot"}, "transform": [{"filter": "datum.panel == 'activees'"}], "mark": {"type": "rect", "fill": "#fff", "fillOpacity": 0.75, "stroke": "#666", "strokeWidth": 1, "cornerRadius": 3, "clip": true},
     "encoding": {"x": {"field": "box_x1", "type": "quantitative"}, "x2": {"field": "box_x2"}, "y": {"field": "box_top", "type": "quantitative"}, "y2": {"field": "box_bottom"}}},
    {"data": {"name": "scatter_annot"}, "transform": [{"filter": "datum.panel == 'activees'"}], "mark": {"type": "text", "align": "left", "baseline": "top", "dx": 2, "dy": 3, "fontSize": 11, "color": "#222", "clip": true},
     "encoding": {"x": {"field": "box_x1", "type": "quantitative"}, "y": {"field": "box_top", "type": "quantitative"}, "text": {"field": "label"}}}
   ]},
  {"width": 176, "height": 105, "title": "[Plaquettes activées]",
   "layer": [
    {"data": {"name": "annot"}, "transform": [{"filter": "datum.panel == 'TRAP-ISO'"}], "mark": {"type": "rule", "color": "#111"}, "encoding": {"x": {"field": "peak", "type": "quantitative"}}},
    {"data": {"name": "trap_iso"}, "mark": {"type": "area", "color": "#ee4a3c", "line": {"color": "#111", "strokeWidth": 2.4}},
     "encoding": {"x": {"field": "log_fl", "type": "quantitative", "scale": {"domain": [2, 7], "nice": false, "zero": false}, "axis": {"title": "IgG FL1 B-525-A", "values": [2,2.5,3,3.5,4,4.5,5,5.5,6,6.5,7], "labelExpr": "datum.value == round(datum.value) ? '10' + ['⁰','¹','²','³','⁴','⁵','⁶','⁷'][datum.value] : ''", "titleY": 27}},
      "y": {"field": "count", "type": "quantitative", "scale": {"domain": [0, 34], "nice": false, "zero": false}, "axis": {"title": "Count", "values": [0,10,20,30], "labelExpr": "datum.value == 0 || datum.value == 30 ? datum.label : ''", "titleX": -32, "titleY": 52.5}}}},
    {"data": {"name": "annot"}, "transform": [{"filter": "datum.panel == 'TRAP-ISO'"}], "mark": {"type": "rule", "color": "#222"}, "encoding": {"x": {"field": "gate_lo", "type": "quantitative"}, "x2": {"field": "gate_hi"}, "y": {"field": "gate_y", "type": "quantitative"}}},
    {"data": {"name": "annot"}, "transform": [{"filter": "datum.panel == 'TRAP-ISO'"}, {"fold": ["gate_lo", "gate_hi"], "as": ["end", "gate_x"]}], "mark": {"type": "tick", "orient": "vertical", "size": 7, "thickness": 1, "color": "#222"}, "encoding": {"x": {"field": "gate_x", "type": "quantitative"}, "y": {"field": "gate_y", "type": "quantitative"}}},
    {"data": {"name": "annot"}, "transform": [{"filter": "datum.panel == 'TRAP-ISO'"}], "mark": {"type": "rect", "fill": "#fff", "fillOpacity": 0.72, "stroke": "#666", "strokeWidth": 1, "cornerRadius": 3, "clip": true}, "encoding": {"x": {"field": "box_x1", "type": "quantitative"}, "x2": {"field": "box_x2"}, "y": {"field": "box_top", "type": "quantitative"}, "y2": {"field": "box_bottom"}}},
    {"data": {"name": "annot"}, "transform": [{"filter": "datum.panel == 'TRAP-ISO'"}], "mark": {"type": "text", "align": "left", "baseline": "top", "dx": 2, "dy": 4, "fontSize": 11, "color": "#222", "clip": true}, "encoding": {"x": {"field": "box_x1", "type": "quantitative"}, "y": {"field": "box_top", "type": "quantitative"}, "text": {"field": "label"}}}
   ]},
  {"width": 176, "height": 105, "title": "[Plaquettes activées]",
   "layer": [
    {"data": {"name": "annot"}, "transform": [{"filter": "datum.panel == 'TRAP-PSEL'"}], "mark": {"type": "rule", "color": "#111"}, "encoding": {"x": {"field": "peak", "type": "quantitative"}}},
    {"data": {"name": "trap_psel"}, "mark": {"type": "area", "color": "#ee4a3c", "line": {"color": "#111", "strokeWidth": 2.4}},
     "encoding": {"x": {"field": "log_fl", "type": "quantitative", "scale": {"domain": [2, 7], "nice": false, "zero": false}, "axis": {"title": "P-SELECTINE FL1 B-525-A", "values": [2,2.5,3,3.5,4,4.5,5,5.5,6,6.5,7], "labelExpr": "datum.value == round(datum.value) ? '10' + ['⁰','¹','²','³','⁴','⁵','⁶','⁷'][datum.value] : ''", "titleY": 27}},
      "y": {"field": "count", "type": "quantitative", "scale": {"domain": [0, 134], "nice": false, "zero": false}, "axis": {"title": "Count", "values": [0,50,100], "titleX": -32, "titleY": 52.5}}}},
    {"data": {"name": "annot"}, "transform": [{"filter": "datum.panel == 'TRAP-PSEL'"}], "mark": {"type": "rule", "color": "#222"}, "encoding": {"x": {"field": "gate_lo", "type": "quantitative"}, "x2": {"field": "gate_hi"}, "y": {"field": "gate_y", "type": "quantitative"}}},
    {"data": {"name": "annot"}, "transform": [{"filter": "datum.panel == 'TRAP-PSEL'"}, {"fold": ["gate_lo", "gate_hi"], "as": ["end", "gate_x"]}], "mark": {"type": "tick", "orient": "vertical", "size": 7, "thickness": 1, "color": "#222"}, "encoding": {"x": {"field": "gate_x", "type": "quantitative"}, "y": {"field": "gate_y", "type": "quantitative"}}},
    {"data": {"name": "annot"}, "transform": [{"filter": "datum.panel == 'TRAP-PSEL'"}], "mark": {"type": "rect", "fill": "#fff", "fillOpacity": 0.72, "stroke": "#666", "strokeWidth": 1, "cornerRadius": 3, "clip": true}, "encoding": {"x": {"field": "box_x1", "type": "quantitative"}, "x2": {"field": "box_x2"}, "y": {"field": "box_top", "type": "quantitative"}, "y2": {"field": "box_bottom"}}},
    {"data": {"name": "annot"}, "transform": [{"filter": "datum.panel == 'TRAP-PSEL'"}], "mark": {"type": "text", "align": "left", "baseline": "top", "dx": 2, "dy": 4, "fontSize": 11, "color": "#222", "clip": true}, "encoding": {"x": {"field": "box_x1", "type": "quantitative"}, "y": {"field": "box_top", "type": "quantitative"}, "text": {"field": "label"}}}
   ]},
  {"width": 176, "height": 105, "title": "[Plaquettes activées]",
   "layer": [
    {"data": {"name": "annot"}, "transform": [{"filter": "datum.panel == 'TRAP-GPIIB'"}], "mark": {"type": "rule", "color": "#111"}, "encoding": {"x": {"field": "peak", "type": "quantitative"}}},
    {"data": {"name": "trap_gpiib"}, "mark": {"type": "area", "color": "#ee4a3c", "line": {"color": "#111", "strokeWidth": 2.4}},
     "encoding": {"x": {"field": "log_fl", "type": "quantitative", "scale": {"domain": [2, 7], "nice": false, "zero": false}, "axis": {"title": "GpIIb FL1 B-525-A", "values": [2,2.5,3,3.5,4,4.5,5,5.5,6,6.5,7], "labelExpr": "datum.value == round(datum.value) ? '10' + ['⁰','¹','²','³','⁴','⁵','⁶','⁷'][datum.value] : ''", "titleY": 27}},
      "y": {"field": "count", "type": "quantitative", "scale": {"domain": [0, 164], "nice": false, "zero": false}, "axis": {"title": "Count", "values": [0,50,100,150], "labelExpr": "datum.value == 0 || datum.value == 150 ? datum.label : ''", "titleX": -32, "titleY": 52.5}}}},
    {"data": {"name": "annot"}, "transform": [{"filter": "datum.panel == 'TRAP-GPIIB'"}], "mark": {"type": "rule", "color": "#222"}, "encoding": {"x": {"field": "gate_lo", "type": "quantitative"}, "x2": {"field": "gate_hi"}, "y": {"field": "gate_y", "type": "quantitative"}}},
    {"data": {"name": "annot"}, "transform": [{"filter": "datum.panel == 'TRAP-GPIIB'"}, {"fold": ["gate_lo", "gate_hi"], "as": ["end", "gate_x"]}], "mark": {"type": "tick", "orient": "vertical", "size": 7, "thickness": 1, "color": "#222"}, "encoding": {"x": {"field": "gate_x", "type": "quantitative"}, "y": {"field": "gate_y", "type": "quantitative"}}},
    {"data": {"name": "annot"}, "transform": [{"filter": "datum.panel == 'TRAP-GPIIB'"}], "mark": {"type": "rect", "fill": "#fff", "fillOpacity": 0.72, "stroke": "#666", "strokeWidth": 1, "cornerRadius": 3, "clip": true}, "encoding": {"x": {"field": "box_x1", "type": "quantitative"}, "x2": {"field": "box_x2"}, "y": {"field": "box_top", "type": "quantitative"}, "y2": {"field": "box_bottom"}}},
    {"data": {"name": "annot"}, "transform": [{"filter": "datum.panel == 'TRAP-GPIIB'"}], "mark": {"type": "text", "align": "left", "baseline": "top", "dx": 2, "dy": 4, "fontSize": 11, "color": "#222", "clip": true}, "encoding": {"x": {"field": "box_x1", "type": "quantitative"}, "y": {"field": "box_top", "type": "quantitative"}, "text": {"field": "label"}}}
   ]},
  {"width": 176, "height": 105, "title": "[Plaquettes activées]",
   "layer": [
    {"data": {"name": "annot"}, "transform": [{"filter": "datum.panel == 'TRAP-GPIB'"}], "mark": {"type": "rule", "color": "#111"}, "encoding": {"x": {"field": "peak", "type": "quantitative"}}},
    {"data": {"name": "trap_gpib"}, "mark": {"type": "area", "color": "#ee4a3c", "line": {"color": "#111", "strokeWidth": 2.4}},
     "encoding": {"x": {"field": "log_fl", "type": "quantitative", "scale": {"domain": [2, 7], "nice": false, "zero": false}, "axis": {"title": "GpIb FL1 B-525-A", "values": [2,2.5,3,3.5,4,4.5,5,5.5,6,6.5,7], "labelExpr": "datum.value == round(datum.value) ? '10' + ['⁰','¹','²','³','⁴','⁵','⁶','⁷'][datum.value] : ''", "titleY": 27}},
      "y": {"field": "count", "type": "quantitative", "scale": {"domain": [0, 142], "nice": false, "zero": false}, "axis": {"title": "Count", "values": [0,50,100], "titleX": -32, "titleY": 52.5}}}},
    {"data": {"name": "annot"}, "transform": [{"filter": "datum.panel == 'TRAP-GPIB'"}], "mark": {"type": "rule", "color": "#222"}, "encoding": {"x": {"field": "gate_lo", "type": "quantitative"}, "x2": {"field": "gate_hi"}, "y": {"field": "gate_y", "type": "quantitative"}}},
    {"data": {"name": "annot"}, "transform": [{"filter": "datum.panel == 'TRAP-GPIB'"}, {"fold": ["gate_lo", "gate_hi"], "as": ["end", "gate_x"]}], "mark": {"type": "tick", "orient": "vertical", "size": 7, "thickness": 1, "color": "#222"}, "encoding": {"x": {"field": "gate_x", "type": "quantitative"}, "y": {"field": "gate_y", "type": "quantitative"}}},
    {"data": {"name": "annot"}, "transform": [{"filter": "datum.panel == 'TRAP-GPIB'"}], "mark": {"type": "rect", "fill": "#fff", "fillOpacity": 0.72, "stroke": "#666", "strokeWidth": 1, "cornerRadius": 3, "clip": true}, "encoding": {"x": {"field": "box_x1", "type": "quantitative"}, "x2": {"field": "box_x2"}, "y": {"field": "box_top", "type": "quantitative"}, "y2": {"field": "box_bottom"}}},
    {"data": {"name": "annot"}, "transform": [{"filter": "datum.panel == 'TRAP-GPIB'"}], "mark": {"type": "text", "align": "left", "baseline": "top", "dx": 2, "dy": 4, "fontSize": 11, "color": "#222", "clip": true}, "encoding": {"x": {"field": "box_x1", "type": "quantitative"}, "y": {"field": "box_top", "type": "quantitative"}, "text": {"field": "label"}}}
   ]}
 ], "spacing": 141.75, "bounds": "flush"}
]
}
